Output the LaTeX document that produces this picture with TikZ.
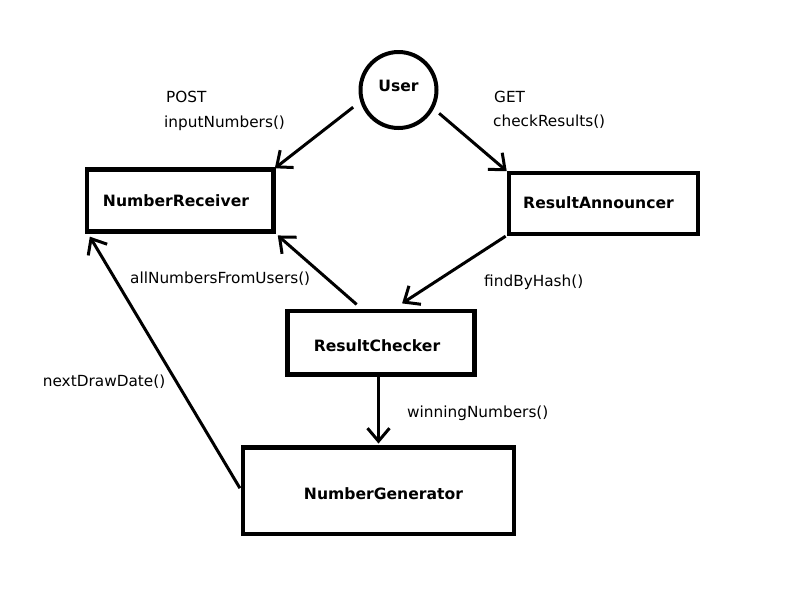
\documentclass[tikz,border=0pt]{standalone}
\usepackage{fontspec}
\setmainfont{DejaVu Sans}
\usetikzlibrary{arrows.meta,calc}
\begin{document}
\begin{tikzpicture}[x=1pt,y=-1pt,
  box/.style={draw, line width=4.5pt, rectangle, inner sep=0pt, outer sep=0pt,
    font=\fontsize{15.6}{18}\selectfont\bfseries, text depth=0pt},
  usernode/.style={circle, draw, line width=4pt, minimum size=76pt, inner sep=0pt,
    outer sep=2pt, font=\fontsize{15.6}{18}\selectfont\bfseries},
  lbl/.style={anchor=base west, inner sep=0pt, font=\fontsize{15.3}{18}\selectfont},
  arr/.style={line width=3pt, -{Straight Barb[length=13pt,width=22pt]}}]
\fill[white] (0,0) rectangle (800,600);
\useasboundingbox (0,0) rectangle (800,600);

\node[usernode, text height=11pt, text depth=7.6pt] (user) at (398.5,90) {User};
\node[box, minimum width=186.5pt, minimum height=62pt, text height=12.4pt] (nr) at (180,200.5) {NumberReceiver\kern8pt};
\node[box, minimum width=189pt, minimum height=61pt, text height=9pt] (ra) at (603.5,203.5) {ResultAnnouncer\kern10pt};
\node[box, minimum width=187pt, minimum height=63.5pt, text height=18pt] (rc) at (381,342.75) {ResultChecker\kern8pt};
\node[box, minimum width=271pt, minimum height=86.5pt, text height=16.5pt] (ng) at (378.5,490.75) {\kern10pt NumberGenerator};

\node[lbl] (post) at (166,102.3) {POST};
\node[lbl] (inp) at (164,127.7) {inputNumbers()};
\node[lbl] (get) at (494,102.7) {GET};
\node[lbl] (chk) at (493,126.7) {checkResults()};
\node[lbl] (alln) at (130,283.3) {allNumbersFromUsers()};
\node[lbl] (fbh) at (484,286.7) {findByHash()};
\node[lbl] (ndd) at (42.7,386.7) {nextDrawDate()};
\node[lbl] (win) at (407,417.7) {winningNumbers()};

\draw[arr, shorten <=9pt, shorten >=2pt] (user.197) -- (nr.north east);
\draw[arr, shorten <=7pt, shorten >=3pt] (user.332) -- (ra.north west);
\draw[arr, shorten <=10pt, shorten >=6pt] ($(rc.north west)!0.41!(rc.north east)$) -- (nr.south east);
\draw[arr, shorten <=4pt, shorten >=14pt] (ra.south west) -- ($(rc.north west)!0.55!(rc.north east)$);
\draw[arr, shorten >=4pt] (rc.south -| ng.north) -- (ng.north);
\draw[arr, shorten <=6pt, shorten >=6pt] ($(ng.north west)!0.53!(ng.south west)$) -- (nr.south west);
\end{tikzpicture}
\end{document}
